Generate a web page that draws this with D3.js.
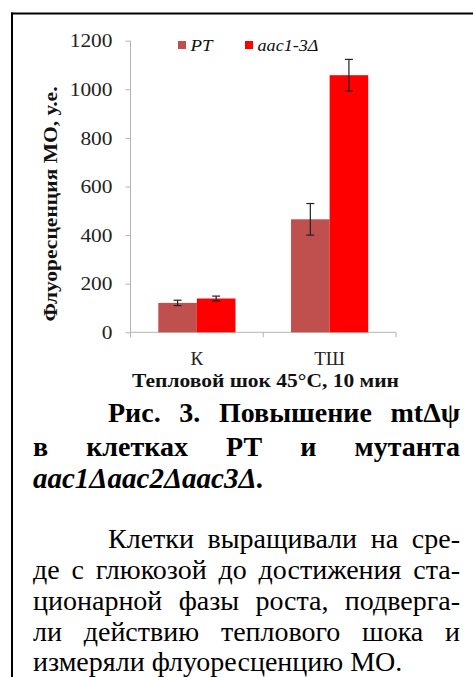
<!DOCTYPE html>
<html><head><meta charset="utf-8">
<script src="https://cdn.jsdelivr.net/npm/d3@7"></script>
<style>
html,body{margin:0;padding:0;background:#fff;}
svg{display:block;}
</style></head>
<body>
<svg id="chart" width="473" height="677"></svg>
<script>
const categories = ["К", "ТШ"];
const seriesNames = ["РТ", "aac1-3Δ"];
const valuesPT = [121, 465];
const valuesAac = [139, 1058];
const errorsPT = [11, 65];
const errorsAac = [10, 65];
const yTickValues = [0, 200, 400, 600, 800, 1000, 1200];
const yTitle = "Флуоресценция МО, у.е.";
const xTitle = "Тепловой шок 45°С, 10 мин";
const captionLines = ["Рис. 3. Повышение mtΔψ", "в клетках РТ и мутанта", "aac1Δaac2Δaac3Δ."];
const bodyLines = ["Клетки выращивали на сре-", "де с глюкозой до достижения ста-", "ционарной фазы роста, подверга-", "ли действию теплового шока и", "измеряли флуоресценцию МО."];

const FONT = '"Liberation Serif"';
const colors = ["#C0504D", "#FF0000"];
const svg = d3.select("#chart").style("font-family", FONT);

// frame
svg.append("line").attr("x1", 11).attr("x2", 473).attr("y1", 13.5).attr("y2", 13.5).attr("stroke", "#000").attr("stroke-width", 2);
svg.append("line").attr("x1", 12).attr("x2", 12).attr("y1", 12.5).attr("y2", 677).attr("stroke", "#000").attr("stroke-width", 2);

const plotLeft = 130.5, plotRight = 396, y0 = 332.3, yTop = 40.7;
const y = d3.scaleLinear().domain([0, 1200]).range([y0, yTop]);
const x0 = d3.scaleBand().domain(categories).range([plotLeft, plotRight]).padding(0);
const x1 = d3.scaleBand().domain(seriesNames).range([0, x0.bandwidth()]).paddingInner(0).paddingOuter(0.72);

const axisColor = "#b4b4b4";
// y axis
const yAxis = svg.append("g").attr("transform", `translate(${plotLeft},0)`)
  .call(d3.axisLeft(y).tickValues(yTickValues).tickSize(5).tickPadding(13).tickFormat(d3.format("d")));
yAxis.attr("font-family", null);
yAxis.select(".domain").attr("stroke", axisColor).attr("d", `M-0,${y0}V${yTop}`);
yAxis.selectAll(".tick line").attr("stroke", axisColor);
yAxis.selectAll(".tick text").style("font-family", FONT).attr("font-size", 18).attr("fill", "#222")
  .attr("textLength", d => String(d).length * 10.7).attr("lengthAdjust", "spacingAndGlyphs").attr("dy", "0.34em");

// x axis with boundary ticks
const boundaries = categories.map(c => x0(c)).concat([plotRight]);
const xg = svg.append("g");
xg.append("line").attr("x1", plotLeft).attr("x2", plotRight).attr("y1", y0).attr("y2", y0).attr("stroke", axisColor);
xg.selectAll("line.tk").data(boundaries).join("line").attr("class", "tk")
  .attr("x1", d => d).attr("x2", d => d).attr("y1", y0).attr("y2", y0 + 5).attr("stroke", axisColor);
xg.selectAll("text").data(categories).join("text")
  .attr("x", d => x0(d) + x0.bandwidth() / 2).attr("y", 365).attr("text-anchor", "middle")
  .style("font-family", FONT).attr("font-size", 19).attr("fill", "#222").text(d => d);

// bars
const series = [
  { name: seriesNames[0], values: valuesPT, errors: errorsPT, color: colors[0] },
  { name: seriesNames[1], values: valuesAac, errors: errorsAac, color: colors[1] }
];
const barData = [];
series.forEach(s => categories.forEach((c, i) => barData.push({ cat: c, name: s.name, v: s.values[i], e: s.errors[i], color: s.color })));
svg.append("g").selectAll("rect").data(barData).join("rect")
  .attr("x", d => x0(d.cat) + x1(d.name)).attr("width", x1.bandwidth())
  .attr("y", d => y(d.v)).attr("height", d => y0 - y(d.v)).attr("fill", d => d.color);

// error bars
const eg = svg.append("g").attr("stroke", "#222").attr("stroke-width", 1.2);
barData.forEach(d => {
  const cx = x0(d.cat) + x1(d.name) + x1.bandwidth() / 2;
  eg.append("line").attr("x1", cx).attr("x2", cx).attr("y1", y(d.v + d.e)).attr("y2", y(d.v - d.e));
  eg.append("line").attr("x1", cx - 4).attr("x2", cx + 4).attr("y1", y(d.v + d.e)).attr("y2", y(d.v + d.e));
  eg.append("line").attr("x1", cx - 4).attr("x2", cx + 4).attr("y1", y(d.v - d.e)).attr("y2", y(d.v - d.e));
});

// legend
const legendX = [178, 245];
const legendW = [22, 61];
series.forEach((s, i) => {
  svg.append("rect").attr("x", legendX[i]).attr("y", 41).attr("width", 8).attr("height", 8).attr("fill", s.color);
  svg.append("text").attr("x", legendX[i] + 12.5).attr("y", 50.5).style("font-family", FONT).attr("font-size", 17).attr("font-style", "italic")
    .attr("fill", "#111").attr("textLength", legendW[i]).attr("lengthAdjust", "spacingAndGlyphs").text(s.name);
});

// axis titles
svg.append("text").attr("transform", "translate(57,204) rotate(-90)").attr("text-anchor", "middle")
  .style("font-family", FONT).attr("font-size", 18).attr("font-weight", "bold").attr("fill", "#111")
  .attr("textLength", 235).attr("lengthAdjust", "spacingAndGlyphs").text(yTitle);
svg.append("text").attr("x", 265.5).attr("y", 386.5).attr("text-anchor", "middle")
  .style("font-family", FONT).attr("font-size", 19).attr("font-weight", "bold").attr("fill", "#111")
  .attr("textLength", 267).attr("lengthAdjust", "spacingAndGlyphs").text(xTitle);

// justified text helper
function justifyLine(str, xStart, xEnd, yy, opts, justify) {
  const words = str.split(" ");
  const nodes = words.map(w => svg.append("text").attr("y", yy).style("font-family", FONT).attr("font-size", opts.size)
    .attr("font-weight", opts.weight || "normal").attr("font-style", opts.style || "normal").attr("fill", "#000").text(w));
  const widths = nodes.map(n => n.node().getComputedTextLength());
  const total = d3.sum(widths);
  let gap = opts.size * 0.25;
  if (justify && words.length > 1) gap = (xEnd - xStart - total) / (words.length - 1);
  let xx = xStart;
  nodes.forEach((n, i) => { n.attr("x", xx); xx += widths[i] + gap; });
}

const capOpts = { size: 28, weight: "bold" };
justifyLine(captionLines[0], 108, 460, 422, capOpts, true);
justifyLine(captionLines[1], 33, 460, 456, capOpts, true);
justifyLine(captionLines[2], 33, 460, 488, { size: 29, weight: "bold", style: "italic" }, false);

const bodyOpts = { size: 28 };
const bodyY = [548, 579, 610, 641, 671];
bodyLines.forEach((l, i) => justifyLine(l, i === 0 ? 108 : 33, 460, bodyY[i], bodyOpts, i < bodyLines.length - 1));
</script>
</body></html>
